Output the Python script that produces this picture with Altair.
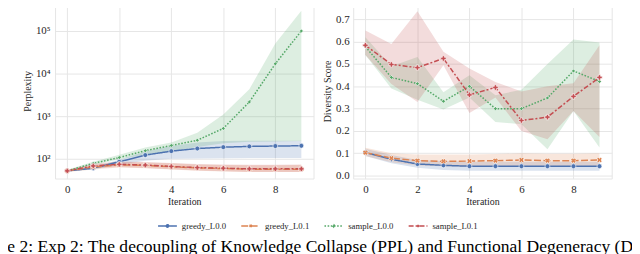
import altair as alt
import pandas as pd

iterations = list(range(10))
series_names = ["greedy_L0.0", "greedy_L0.1", "sample_L0.0", "sample_L0.1"]
colors = ["#4C72B0", "#DD8452", "#55A868", "#C44E52"]
dashes = [[1, 0], [7, 2.5], [1.6, 1.6], [5, 2, 2, 2]]

# Perplexity (log scale)
ppl_mean = {
    "greedy_L0.0": [52, 60, 85, 122, 151, 174, 187, 195, 199, 202],
    "greedy_L0.1": [52, 64, 72, 70, 65, 61, 59, 57, 57, 57],
    "sample_L0.0": [52, 78, 107, 155, 205, 272, 517, 2150, 17000, 100000],
    "sample_L0.1": [52, 68, 74, 71, 66, 62, 60, 58, 58, 58],
}
ppl_lo = {
    "greedy_L0.0": [50, 56, 72, 90, 100, 102, 103, 104, 104, 104],
    "greedy_L0.1": [49, 56, 62, 60, 56, 52, 50, 49, 49, 49],
    "sample_L0.0": [50, 70, 98, 125, 150, 190, 230, 250, 255, 260],
    "sample_L0.1": [49, 60, 64, 61, 57, 53, 51, 49, 49, 49],
}
ppl_hi = {
    "greedy_L0.0": [55, 64, 95, 150, 200, 240, 262, 265, 265, 265],
    "greedy_L0.1": [55, 72, 84, 82, 78, 73, 71, 70, 70, 71],
    "sample_L0.0": [55, 85, 125, 183, 240, 410, 1090, 4300, 51000, 300000],
    "sample_L0.1": [55, 76, 86, 84, 80, 75, 73, 72, 72, 73],
}

# Diversity score
ds_mean = {
    "greedy_L0.0": [0.103, 0.073, 0.052, 0.046, 0.042, 0.042, 0.042, 0.042, 0.042, 0.042],
    "greedy_L0.1": [0.103, 0.078, 0.067, 0.064, 0.065, 0.067, 0.070, 0.067, 0.067, 0.070],
    "sample_L0.0": [0.578, 0.44, 0.412, 0.333, 0.40, 0.30, 0.30, 0.348, 0.469, 0.422],
    "sample_L0.1": [0.584, 0.498, 0.484, 0.525, 0.362, 0.395, 0.247, 0.262, 0.355, 0.44],
}
ds_lo = {
    "greedy_L0.0": [0.088, 0.055, 0.035, 0.025, 0.022, 0.022, 0.022, 0.022, 0.022, 0.022],
    "greedy_L0.1": [0.088, 0.060, 0.045, 0.042, 0.040, 0.040, 0.042, 0.040, 0.040, 0.042],
    "sample_L0.0": [0.54, 0.39, 0.34, 0.296, 0.35, 0.24, 0.23, 0.118, 0.29, 0.126],
    "sample_L0.1": [0.54, 0.41, 0.33, 0.495, 0.28, 0.35, 0.20, 0.163, 0.29, 0.173],
}
ds_hi = {
    "greedy_L0.0": [0.12, 0.092, 0.070, 0.065, 0.062, 0.062, 0.062, 0.062, 0.062, 0.062],
    "greedy_L0.1": [0.125, 0.10, 0.095, 0.094, 0.095, 0.097, 0.10, 0.098, 0.098, 0.10],
    "sample_L0.0": [0.62, 0.49, 0.532, 0.374, 0.45, 0.36, 0.385, 0.50, 0.61, 0.596],
    "sample_L0.1": [0.65, 0.59, 0.737, 0.555, 0.48, 0.42, 0.377, 0.40, 0.414, 0.584],
}

caption_text = "Figure 2: Exp 2: The decoupling of Knowledge Collapse (PPL) and Functional Degeneracy (DS)."

rows = []
for s in series_names:
    for i, it in enumerate(iterations):
        rows.append({
            "series": s, "iter": it,
            "ppl": ppl_mean[s][i], "ppl_lo": ppl_lo[s][i], "ppl_hi": ppl_hi[s][i],
            "ds": ds_mean[s][i], "ds_lo": ds_lo[s][i], "ds_hi": ds_hi[s][i],
        })
df = pd.DataFrame(rows)

FONT = "Liberation Serif"
TXT = "#262626"
GRID = "#E6E6E6"

# legend symbols: line segment with a small marker in the middle
legend_paths = [
    "M-1,0H1M-0.13,0A0.13,0.13 0 1,0 0.13,0A0.13,0.13 0 1,0 -0.13,0",
    "M-1,0H1M-0.12,-0.12L0.12,0.12M-0.12,0.12L0.12,-0.12",
    "M-1,0H1M0,-0.12L0.12,0L0,0.12L-0.12,0Z",
    "M-1,0H1M0,-0.14V0.14M-0.14,0H0.14",
]

legend = alt.Legend(
    title=None, orient="none", legendX=103, legendY=214, direction="horizontal",
    columns=4, columnPadding=12, labelOffset=4, symbolSize=361,
    symbolStrokeWidth=1.5, symbolOpacity=1, labelFont=FONT, labelFontSize=8.8,
    labelColor=TXT,
)
color_enc = alt.Color("series:N", scale=alt.Scale(domain=series_names, range=colors), legend=legend)
dash_enc = alt.StrokeDash("series:N", scale=alt.Scale(domain=series_names, range=dashes), legend=legend)
shape_enc = alt.Shape("series:N", scale=alt.Scale(domain=series_names, range=legend_paths), legend=legend)

axis_style = dict(labelFont=FONT, labelFontSize=11, labelColor=TXT,
                  titleFont=FONT, titleFontSize=10, titleColor=TXT, titleFontWeight="normal")

x_enc = alt.X("iter:Q", scale=alt.Scale(domain=[-0.47, 9.47], nice=False, zero=False),
              axis=alt.Axis(values=[0, 2, 4, 6, 8], title="Iteration", labelPadding=5,
                            titlePadding=2, **axis_style))

marker_styles = {
    "greedy_L0.0": dict(shape="circle", size=24),
    "greedy_L0.1": dict(shape="cross", angle=45, size=30),
    "sample_L0.0": dict(shape="diamond", size=16),
    "sample_L0.1": dict(shape="cross", size=30),
}


def panel(ycol, locol, hicol, y_scale, y_axis, extra=None):
    base = alt.Chart(df)
    y_enc = alt.Y(f"{ycol}:Q", scale=y_scale, axis=y_axis)
    dummy = base.mark_point(opacity=0, filled=False).encode(
        x=x_enc, y=y_enc, color=color_enc, shape=shape_enc, strokeDash=dash_enc)
    band = base.mark_area(opacity=0.2).encode(
        x=x_enc, y=alt.Y(f"{locol}:Q", scale=y_scale, axis=y_axis), y2=f"{hicol}:Q", color=color_enc)
    line = base.mark_line(strokeWidth=1.5).encode(
        x=x_enc, y=y_enc, color=color_enc, strokeDash=dash_enc)
    layers = [dummy, band, line]
    for s in series_names:
        st = marker_styles[s]
        layers.append(
            base.transform_filter(alt.datum.series == s)
            .mark_point(filled=True, opacity=1, stroke="white", strokeWidth=0.6, **st)
            .encode(x=x_enc, y=y_enc, color=color_enc)
        )
    if extra is not None:
        layers.append(extra)
    return alt.layer(*layers).properties(width=261, height=177)


sup = "datum.value == 100 ? '10²' : datum.value == 1000 ? '10³' : datum.value == 10000 ? '10⁴' : '10⁵'"
left_scale = alt.Scale(type="log", domain=[34.3, 448000], nice=False)
left_axis = alt.Axis(values=[100, 1000, 10000, 100000], labelExpr=sup, title="Perplexity",
                     labelPadding=5, titlePadding=3, **axis_style)
right_scale = alt.Scale(domain=[-0.0133, 0.7724], nice=False, zero=False)
right_axis = alt.Axis(values=[0, 0.1, 0.2, 0.3, 0.4, 0.5, 0.6, 0.7], format=".1f",
                      title="Diversity Score", labelPadding=4, titlePadding=3, **axis_style)

caption = alt.Chart(pd.DataFrame({"caption": [caption_text]})).mark_text(
    align="left", baseline="alphabetic", fontSize=17.7, font=FONT, color="#000000").encode(
    text="caption:N", x=alt.value(-86.5), y=alt.value(251))

left = panel("ppl", "ppl_lo", "ppl_hi", left_scale, left_axis, extra=caption)
right = panel("ds", "ds_lo", "ds_hi", right_scale, right_axis)

chart = alt.hconcat(left, right, spacing=40, bounds="flush").properties(
    padding={"left": -39.5, "top": -7, "right": -22.5, "bottom": 0}
).configure_view(stroke=GRID, strokeWidth=1).configure_axis(
    grid=True, gridColor=GRID, gridWidth=1, ticks=False, domain=False,
    labelFont=FONT, labelFontSize=11, labelColor=TXT,
    titleFont=FONT, titleFontSize=10, titleColor=TXT, titleFontWeight="normal",
).configure_legend(labelFont=FONT)

chart.save("out.html", embed_options={"renderer": "svg", "actions": False})
